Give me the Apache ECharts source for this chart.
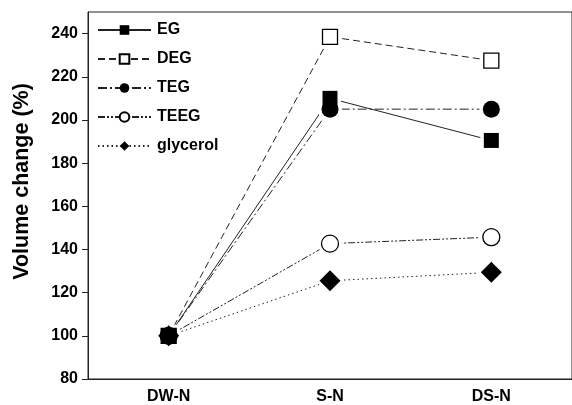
<!DOCTYPE html>
<html><head><meta charset="utf-8">
<script src="https://cdn.jsdelivr.net/npm/echarts@6/dist/echarts.min.js"></script>
<style>html,body{margin:0;padding:0;background:#fff}#c{width:572px;height:405px}</style>
</head><body><div id="c"></div>
<script>
const categories = ['DW-N', 'S-N', 'DS-N'];
const EG = [100, 210, 190.5];
const DEG = [100, 238.5, 227.5];
const TEG = [100, 205, 205];
const TEEG = [100, 142.7, 145.7];
const glycerol = [100, 125.5, 129.4];
const yTicks = [80, 100, 120, 140, 160, 180, 200, 220, 240];

const FONT = '"Liberation Sans", Arial, sans-serif';
const LINE = '#222';
const defs = [
  {name: 'EG', data: EG, symbol: 'rect', size: 15, fill: '#000', dash: 'solid'},
  {name: 'DEG', data: DEG, symbol: 'rect', size: 15, fill: '#fff', dash: [7, 4]},
  {name: 'TEG', data: TEG, symbol: 'circle', size: 17, fill: '#000', dash: [9, 3, 2, 3]},
  {name: 'TEEG', data: TEEG, symbol: 'circle', size: 17, fill: '#fff', dash: [7, 2, 2, 2, 2, 2]},
  {name: 'glycerol', data: glycerol, symbol: 'diamond', size: 21, fill: '#000', dash: [1.5, 3]}
];

const series = [];
defs.forEach(d => {
  series.push({
    name: d.name, type: 'line', data: d.data, z: 2,
    symbol: d.symbol, symbolSize: d.size, showSymbol: true,
    lineStyle: {color: LINE, width: 1, type: d.dash},
    itemStyle: {color: d.fill, opacity: 1, borderColor: '#000', borderWidth: d.fill === '#fff' ? 1.3 : 0},
    emphasis: {disabled: true}, animation: false
  });
});
defs.forEach(d => {
  series.push({
    name: d.name + '-halo', type: 'scatter', data: d.data, z: 3,
    symbol: d.symbol, symbolSize: d.size + 7,
    itemStyle: {color: '#fff', opacity: 1}, emphasis: {disabled: true}, animation: false
  });
});
defs.forEach(d => {
  const hollow = d.fill === '#fff';
  series.push({
    name: d.name + '-mark', type: 'scatter', data: d.data, z: hollow ? 4 : 5,
    symbol: d.symbol, symbolSize: d.size,
    itemStyle: {color: d.fill, opacity: 1, borderColor: '#000', borderWidth: hollow ? 1.3 : 0},
    emphasis: {disabled: true}, animation: false
  });
});

const chart = echarts.init(document.getElementById('c'), null, {renderer: 'canvas'});
chart.setOption({
  animation: false,
  backgroundColor: '#fff',
  grid: {left: 88, right: -11, top: 12, bottom: 22, show: true, borderColor: LINE, borderWidth: 1, backgroundColor: 'transparent'},
  legend: {
    data: defs.map(d => d.name),
    orient: 'vertical', left: 97, top: 22, padding: 0,
    itemWidth: 53, itemHeight: 12, itemGap: 13,
    textStyle: {fontFamily: FONT, fontWeight: 'bold', fontSize: 16, color: '#000', padding: [0, 0, 0, 1]},
    selectedMode: false
  },
  xAxis: {
    type: 'category', data: categories, boundaryGap: true,
    axisLine: {lineStyle: {color: LINE, width: 1}},
    axisTick: {inside: true, length: 7, alignWithLabel: true, lineStyle: {color: LINE}},
    axisLabel: {margin: 10, fontFamily: FONT, fontWeight: 'bold', fontSize: 16, color: '#000'},
    splitLine: {show: false}
  },
  yAxis: {
    type: 'value', min: 80, max: 250, interval: 20,
    name: 'Volume change (%)', nameLocation: 'middle', nameGap: 55,
    nameTextStyle: {fontFamily: FONT, fontWeight: 'bold', fontSize: 21.5, color: '#000', padding: [0, 0, 0, 28]},
    axisLine: {show: true, lineStyle: {color: LINE, width: 1}},
    axisTick: {show: true, length: 6, customValues: yTicks, lineStyle: {color: LINE}},
    axisLabel: {margin: 10, customValues: yTicks, fontFamily: FONT, fontWeight: 'bold', fontSize: 16, color: '#000'},
    splitLine: {show: false}
  },
  series: series
});
</script></body></html>
